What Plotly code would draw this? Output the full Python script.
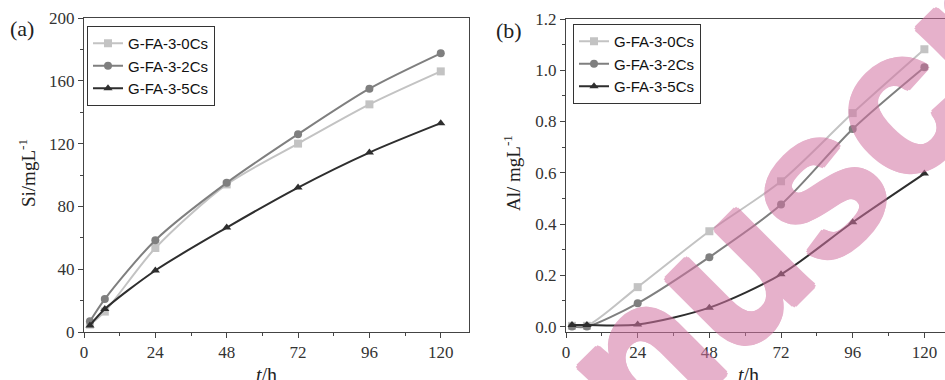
import plotly.graph_objects as go

t_hours = [2, 7, 24, 48, 72, 96, 120]
series_names = ["G-FA-3-0Cs", "G-FA-3-2Cs", "G-FA-3-5Cs"]
si_0cs = [4.7, 13, 53.5, 94, 120, 145, 166]
si_2cs = [6.8, 21, 58.5, 95, 126, 155, 177.5]
si_5cs = [4.2, 14.6, 39.2, 66.5, 92, 114.3, 133]
al_0cs = [0.003, 0.003, 0.154, 0.372, 0.567, 0.833, 1.082]
al_2cs = [0.0, 0.0, 0.091, 0.271, 0.476, 0.771, 1.012]
al_5cs = [0.006, 0.006, 0.008, 0.074, 0.204, 0.407, 0.597]
x_ticks = [0, 24, 48, 72, 96, 120]

colors = ["#c3c3c3", "#7f7f7f", "#2e2e2e"]
symbols = ["square", "circle", "triangle-up"]
W, H = 945, 380

fig = go.Figure()
for i, (name, vals) in enumerate(zip(series_names, [si_0cs, si_2cs, si_5cs])):
    fig.add_trace(go.Scatter(x=t_hours, y=vals, name=name, mode="lines+markers",
                             line=dict(color=colors[i], width=2, shape="spline", smoothing=0.8),
                             marker=dict(symbol=symbols[i], size=8, color=colors[i]),
                             xaxis="x", yaxis="y", legend="legend"))
for i, (name, vals) in enumerate(zip(series_names, [al_0cs, al_2cs, al_5cs])):
    fig.add_trace(go.Scatter(x=t_hours, y=vals, name=name, mode="lines+markers",
                             line=dict(color=colors[i], width=2, shape="spline", smoothing=0.8),
                             marker=dict(symbol=symbols[i], size=8, color=colors[i]),
                             xaxis="x2", yaxis="y2", legend="legend2"))

serif = "Times New Roman, Liberation Serif, serif"
tickfont = dict(family=serif, size=17, color="#333333")
axis_common = dict(showline=True, linecolor="#444444", linewidth=1, mirror=True,
                   ticks="outside", ticklen=5, tickcolor="#444444", showgrid=False,
                   zeroline=False, tickfont=tickfont, automargin=False)

legend_common = dict(xanchor="left", yanchor="top",
                     bordercolor="#333333", borderwidth=1, bgcolor="white",
                     font=dict(family="Arial, Liberation Sans, sans-serif", size=15, color="#111111"),
                     tracegroupgap=0, itemwidth=30)

fig.update_layout(
    width=W, height=H, margin=dict(l=0, r=0, t=0, b=0, autoexpand=False),
    plot_bgcolor="white", paper_bgcolor="white", showlegend=True,
    xaxis=dict(domain=[84 / W, 469 / W], range=[0, 129.5], tickvals=x_ticks,
               minor=dict(ticks="outside", ticklen=3, dtick=12, tick0=0, tickcolor="#444444"),
               anchor="y", **axis_common),
    yaxis=dict(domain=[1 - 332 / H, 1 - 18 / H], range=[0, 200], dtick=40,
               minor=dict(ticks="outside", ticklen=3, dtick=20, tickcolor="#444444"),
               anchor="x", **axis_common),
    xaxis2=dict(domain=[566 / W, 1.0], range=[0, 126.9], tickvals=x_ticks,
                minor=dict(ticks="outside", ticklen=3, dtick=12, tick0=0, tickcolor="#444444"),
                anchor="y2", **axis_common),
    yaxis2=dict(domain=[1 - 332 / H, 1 - 19 / H], range=[-0.021, 1.2], dtick=0.2,
                tickformat=".1f",
                minor=dict(ticks="outside", ticklen=3, dtick=0.1, tickcolor="#444444"),
                anchor="x2", **axis_common),
    legend=dict(x=87 / W, y=1 - 26 / H, **legend_common),
    legend2=dict(x=573 / W, y=1 - 24 / H, **legend_common),
)

wm = "#d273a2"
shadow = ", ".join(f"{dx}px {dy}px 0 {wm}" for dx, dy in
                   [(3, 0), (-3, 0), (0, 3), (0, -3), (2, 2), (-2, -2), (2, -2), (-2, 2)])
ann = [
    dict(text="(a)", x=22 / W, y=1 - 28 / H, font=dict(family=serif, size=22, color="#222")),
    dict(text="(b)", x=509 / W, y=1 - 30 / H, font=dict(family=serif, size=22, color="#222")),
    dict(text="Si/mgL<sup>-1</sup>", x=27 / W, y=1 - 173 / H, textangle=-90,
         font=dict(family=serif, size=19, color="#222")),
    dict(text="Al/ mgL<sup>-1</sup>", x=512 / W, y=1 - 173 / H, textangle=-90,
         font=dict(family=serif, size=19, color="#222")),
    dict(text="<i>t</i>/h", x=266 / W, y=1 - 375 / H, font=dict(family=serif, size=20, color="#222")),
    dict(text="<i>t</i>/h", x=748 / W, y=1 - 375 / H, font=dict(family=serif, size=20, color="#222")),
    dict(text="<b>nuscr</b>", x=792 / W, y=1 - 205 / H, textangle=-45, opacity=0.55,
         font=dict(family="Arial, Liberation Sans, sans-serif", size=205, color=wm, shadow=shadow)),
]
for a in ann:
    fig.add_annotation(xref="paper", yref="paper", showarrow=False,
                       xanchor="center", yanchor="middle", **a)

fig.write_html("out.html", config={"displayModeBar": False},
               post_script="document.body.style.margin='0';document.body.style.overflow='hidden';")
